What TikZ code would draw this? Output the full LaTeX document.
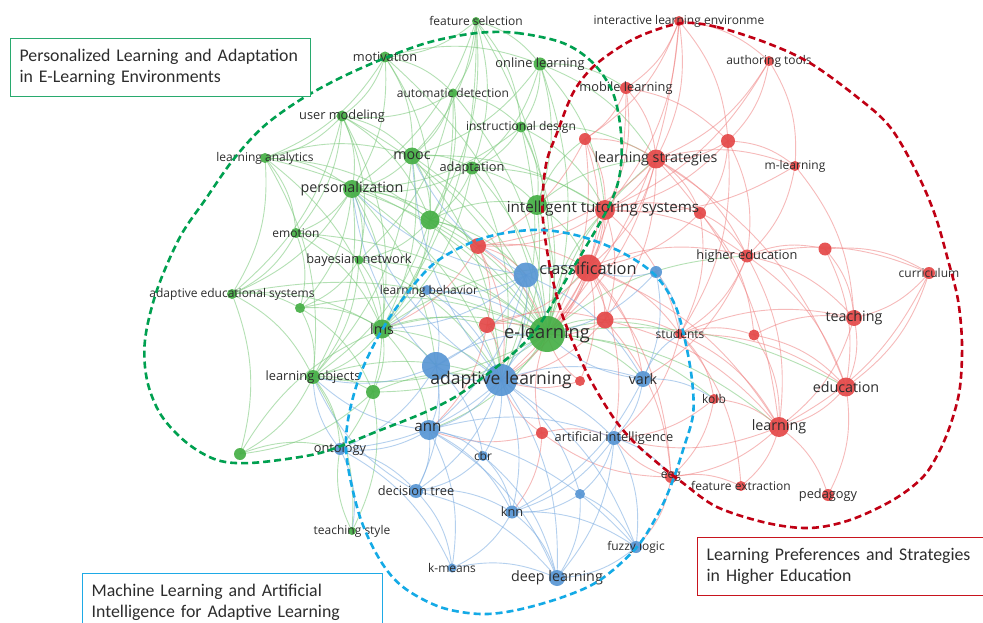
\documentclass[tikz,border=0pt]{standalone}
\usepackage{fontspec}
\newfontfamily\osans{Open Sans}
\newfontfamily\carl{Carlito}
\definecolor{gnode}{RGB}{70,175,70}
\definecolor{rnode}{RGB}{228,72,72}
\definecolor{bnode}{RGB}{88,150,212}
\definecolor{gedgec}{RGB}{120,200,120}
\definecolor{redgec}{RGB}{240,130,130}
\definecolor{bedgec}{RGB}{120,170,225}
\definecolor{gringc}{RGB}{0,160,80}
\definecolor{rringc}{RGB}{192,0,20}
\definecolor{bringc}{RGB}{20,170,230}
\definecolor{gboxc}{RGB}{40,170,110}
\definecolor{rboxc}{RGB}{200,20,30}
\definecolor{bboxc}{RGB}{30,170,230}
\definecolor{txt}{RGB}{45,45,45}
\begin{document}
\begin{tikzpicture}[x=1pt,y=-1pt,
  dot/.style={circle,inner sep=0pt,draw=none,fill opacity=0.92},
  gedge/.style={draw=gedgec,line width=0.9pt,opacity=0.55},
  redge/.style={draw=redgec,line width=0.9pt,opacity=0.55},
  bedge/.style={draw=bedgec,line width=0.9pt,opacity=0.55},
  ring/.style={line width=2.6pt,dash pattern=on 7pt off 4pt},
  lab/.style={inner sep=0pt,text=txt},
  t10/.style={lab,font=\osans\fontsize{12}{14}\selectfont},
  t11/.style={lab,font=\osans\fontsize{12.8}{15}\selectfont},
  t12/.style={lab,font=\osans\fontsize{14.3}{16}\selectfont},
  t13/.style={lab,font=\osans\fontsize{15.2}{17}\selectfont},
  t14/.style={lab,font=\osans\fontsize{16.4}{18}\selectfont},
  t16/.style={lab,font=\osans\fontsize{18.3}{20}\selectfont},
  t15/.style={lab,font=\osans\fontsize{17.5}{20}\selectfont},
  box/.style={draw,line width=1.3pt,fill=white,anchor=north west,align=left,
    text width=282pt,inner xsep=9pt,minimum height=58pt,text=txt,
    font=\carl\fontsize{17.8}{21}\selectfont}]
\useasboundingbox (0,0) rectangle (983,623);
\fill[white] (0,0) rectangle (983,623);
% ---------- positions ----------
\foreach \n/\x/\y in {fs/476/21, mot/385/57, ol/540/64, ad/453/93, um/342/116,
  id/521/127, la/265/158, mooc/412/156, adap/472/168, pers/352/189, ga/430/220,
  gb/537/205, emo/296/233, bn/359/260, aes/232/294, gc/300/308, lms/382/329,
  el/547/334, lo/313/377, gd/373/392, ge/240/454, ts/352/531,
  ile/679/21, aut/769/61, ml/626/88, ra/585/139, rb/728/141, ls/656/159,
  mlr/795/166, its/605/210, rc/700/213, rd/478/246, cls/588/268, he/747/256,
  re/825/249, cur/929/273, rf/487/325, rg/605/320, stu/680/334, rh/754/335,
  tea/854/318, ri/580/381, edu/846/387, kolb/714/399, rj/542/433, lrn/779/427,
  eeg/671/477, fe/741/486, ped/828/495,
  ba/526/275, bb/656/272, lb/427/290, al/501/380, bc/436/366, vark/643/379,
  ann/429/430, ai/614/438, ont/340/449, cbr/483/456, dt/416/491, bd/580/494,
  knn/512/512, fl/636/547, km/452/568, dl/557/578}
  \coordinate (\n) at (\x,\y);
% ---------- edges ----------
\foreach \a/\b in {fs/mot, fs/ol, fs/ad, fs/id, fs/el, fs/mooc, fs/pers, fs/ga, fs/adap, fs/lms,
  mot/um, mot/ad, mot/mooc, mot/pers, mot/el, mot/ol, mot/ga, mot/la,
  ol/id, ol/el, ol/adap, ol/its, ol/gb, ol/mooc, ol/ls, ol/ml,
  ad/um, ad/mooc, ad/el, ad/lms, ad/ga, ad/bn, ad/id,
  um/la, um/pers, um/mooc, um/emo, um/el, um/lms, um/ga, um/aes, um/bn,
  id/adap, id/el, id/gb, id/al, id/its, id/pers, id/ls,
  la/pers, la/mooc, la/lms, la/emo, la/el, la/ga, la/aes, la/lo,
  mooc/pers, mooc/el, mooc/ga, mooc/lms, mooc/adap, mooc/al, mooc/lo, mooc/its,
  adap/el, adap/ga, adap/pers, adap/lms, adap/al, adap/gb, adap/its,
  pers/ga, pers/el, pers/lms, pers/al, pers/emo, pers/bn, pers/lo, pers/aes, pers/gc, pers/bc, pers/rd,
  ga/el, ga/lms, ga/al, ga/bn, ga/ba, ga/gb, ga/lo, ga/rd,
  gb/el, gb/cls, gb/al, gb/its, gb/ls, gb/ra,
  emo/bn, emo/aes, emo/lms, emo/el, emo/gc,
  bn/lms, bn/el, bn/al, bn/gc, bn/lo,
  aes/gc, aes/lms, aes/lo, aes/ge, aes/el,
  gc/lms, gc/lo, gc/el, gc/gd,
  lms/el, lms/lo, lms/al, lms/gd, lms/bc, lms/ann, lms/ont, lms/cls, lms/rf,
  el/lo, el/al, el/gd, el/cls, el/vark, el/ann, el/its, el/ls, el/rg, el/rf,
  el/stu, el/he, el/lrn, el/edu, el/kolb,
  lo/gd, lo/ge, lo/ont, lo/al, lo/ts,
  gd/al, gd/ts, gd/ge, ge/ont, ge/lms, ts/ont}
  \draw[gedge] (\a) to[bend left=18] (\b);
\foreach \a/\b in {ile/ls, ile/ml, ile/aut, ile/its, ile/rb, ile/ra, ile/el,
  aut/rb, aut/mlr, aut/ls, aut/its,
  ml/ls, ml/ra, ml/its, ml/rb, ml/el,
  ra/ls, ra/its, ra/el, ra/cls, ra/rd,
  rb/ls, rb/mlr, rb/its, rb/he, rb/stu, rb/rc,
  ls/its, ls/cls, ls/el, ls/rc, ls/he, ls/mlr, ls/rg, ls/rd, ls/lrn, ls/edu,
  mlr/he, mlr/its, mlr/tea,
  its/cls, its/el, its/rc, its/rd, its/rg, its/he, its/stu, its/al,
  rc/he, rc/cls, rc/stu, rc/rh,
  rd/cls, rd/el, rd/rf, rd/al, rd/lms, rd/ba,
  cls/el, cls/rg, cls/stu, cls/al, cls/rf, cls/ai, cls/eeg, cls/he, cls/lrn, cls/ri, cls/vark,
  he/re, he/tea, he/edu, he/stu, he/lrn, he/cur, he/vark,
  re/cur, re/tea, re/edu, cur/tea, cur/edu, cur/lrn,
  rf/el, rf/al, rf/rg, rf/ann, rg/el, rg/stu, rg/eeg, rg/lrn, rg/al,
  stu/rh, stu/tea, stu/edu, stu/lrn, stu/kolb, stu/fe, stu/ai,
  rh/tea, rh/lrn, rh/edu, tea/edu, tea/lrn, edu/lrn, edu/ped,
  kolb/lrn, kolb/eeg, kolb/ai, lrn/eeg, lrn/fe, lrn/ped, lrn/ai,
  eeg/fe, eeg/rj, eeg/ai, eeg/fl, ri/el, ri/al, rj/al, rj/el, rj/ai, rj/ann, rj/knn}
  \draw[redge] (\a) to[bend left=18] (\b);
\foreach \a/\b in {ba/el, ba/al, ba/cls, ba/bc, ba/lb, ba/lms, ba/vark, ba/ann, ba/pers, ba/mooc,
  bb/cls, bb/vark, bb/stu, bb/el,
  lb/al, lb/bc, lb/lms, lb/el,
  al/bc, al/el, al/vark, al/ann, al/ai, al/cbr, al/dt, al/knn, al/dl, al/ont, al/fl, al/bd,
  al/pers, al/mooc,
  bc/ann, bc/ont, bc/dt, bc/cbr, bc/el, bc/lo, bc/pers,
  vark/el, vark/ai, vark/kolb, vark/knn, vark/stu,
  ann/dt, ann/cbr, ann/knn, ann/km, ann/dl, ann/ont, ann/ai, ann/fl, ann/lo,
  ai/knn, ai/dl, ai/fl, ai/bd, ai/eeg,
  ont/dt, ont/ts, ont/km, ont/lo, cbr/knn, cbr/dt, cbr/dl,
  dt/knn, dt/km, dt/dl, dt/lo, bd/knn, bd/fl, bd/dl,
  knn/km, knn/dl, knn/fl, fl/dl, km/dl}
  \draw[bedge] (\a) to[bend left=18] (\b);
% ---------- circles ----------
\foreach \n/\d in {fs/8, mot/11, ol/13, ad/9, um/11, id/11, la/10, mooc/17, adap/13,
  pers/18, ga/19, gb/20, emo/10, bn/9, aes/10, gc/10, lms/19, el/36, lo/14, gd/14,
  ge/12, ts/8}
  \node[dot,fill=gnode,minimum size=\d pt] (\n-c) at (\n) {};
\foreach \n/\d in {ile/10, aut/10, ml/12, ra/12, rb/14, ls/19, mlr/10, its/20, rc/12,
  rd/16, cls/27, he/13, re/13, cur/12, rf/16, rg/17, stu/10, rh/11, tea/16, ri/10,
  edu/19, kolb/10, rj/12, lrn/20, eeg/12, fe/10, ped/12}
  \node[dot,fill=rnode,minimum size=\d pt] (\n-c) at (\n) {};
\foreach \n/\d in {ba/25, bb/12, lb/10, al/32, bc/28, vark/16, ann/20, ai/14, ont/12,
  cbr/10, dt/14, bd/10, knn/13, fl/12, km/9, dl/16}
  \node[dot,fill=bnode,minimum size=\d pt] (\n-c) at (\n) {};
% ---------- labels ----------
\node[t10] (fs-l) at (fs) {feature selection};
\node[t11] (mot-l) at (mot) {motivation};
\node[t11] (ol-l) at (ol) {online learning};
\node[t10] (ad-l) at (ad) {automatic detection};
\node[t11] (um-l) at (um) {user modeling};
\node[t10] (id-l) at (id) {instructional design};
\node[t10] (la-l) at (la) {learning analytics};
\node[t12] (mooc-l) at (mooc) {mooc};
\node[t11] (adap-l) at (adap) {adaptation};
\node[t12] (pers-l) at (pers) {personalization};
\node[t10] (emo-l) at (emo) {emotion};
\node[t11] (bn-l) at (bn) {bayesian network};
\node[t10] (aes-l) at (aes) {adaptive educational systems};
\node[t12] (lms-l) at (lms) {lms};
\node[t16] (el-l) at (el) {e-learning};
\node[t11] (lo-l) at (lo) {learning objects};
\node[t10] (ts-l) at (ts) {teaching style};
\node[t10] (ile-l) at (ile) {interactive learning environme};
\node[t10] (aut-l) at (aut) {authoring tools};
\node[t11] (ml-l) at (ml) {mobile learning};
\node[t12] (ls-l) at (ls) {learning strategies};
\node[t10] (mlr-l) at (mlr) {m-learning};
\node[t13] (its-l) at (603,209) {intelligent tutoring systems};
\node[t14] (cls-l) at (cls) {classification};
\node[t11] (he-l) at (he) {higher education};
\node[t10] (cur-l) at (cur) {curriculum};
\node[t10] (stu-l) at (stu) {students};
\node[t12] (tea-l) at (tea) {teaching};
\node[t12] (edu-l) at (edu) {education};
\node[t10] (kolb-l) at (kolb) {kolb};
\node[t12] (lrn-l) at (lrn) {learning};
\node[t10] (eeg-l) at (eeg) {eeg};
\node[t10] (fe-l) at (fe) {feature extraction};
\node[t11] (ped-l) at (ped) {pedagogy};
\node[t10] (lb-l) at (429,291) {learning behavior};
\node[t15] (al-l) at (al) {adaptive learning};
\node[t12] (vark-l) at (vark) {vark};
\node[t13] (ann-l) at (428,427) {ann};
\node[t11] (ai-l) at (ai) {artificial intelligence};
\node[t11] (ont-l) at (ont) {ontology};
\node[t10] (cbr-l) at (cbr) {cbr};
\node[t11] (dt-l) at (dt) {decision tree};
\node[t11] (knn-l) at (knn) {knn};
\node[t10] (fl-l) at (fl) {fuzzy logic};
\node[t10] (km-l) at (km) {k-means};
\node[t12] (dl-l) at (dl) {deep learning};
% ---------- cluster rings ----------
\draw[ring,draw=gringc] plot[smooth cycle,tension=0.55] coordinates {
  (477,33) (517,33) (563,43) (593,63) (613,93) (621,133) (620,173) (608,208)
  (570,273) (530,337) (470,387) (430,410) (373,433) (330,450) (300,457) (250,463)
  (217,460) (187,443) (161,415) (147,380) (145,340) (157,290) (180,237) (205,200)
  (233,160) (263,127) (300,100) (340,78) (385,58) (430,42)};
\draw[ring,draw=rringc] plot[smooth cycle,tension=0.55] coordinates {
  (683,23) (717,27) (767,43) (810,63) (857,97) (890,127) (917,173) (935,215)
  (948,260) (958,300) (962,343) (960,387) (952,420) (940,450) (923,477) (893,500)
  (850,520) (810,528) (767,523) (717,507) (683,483) (660,465) (635,443) (613,417)
  (587,373) (563,317) (550,267) (543,220) (543,190) (547,160) (557,133) (573,93)
  (593,67) (623,45) (650,32)};
\draw[ring,draw=bringc] plot[smooth cycle,tension=0.55] coordinates {
  (543,230) (583,237) (623,253) (655,275) (675,305) (685,340) (692,380) (693,415)
  (683,450) (673,480) (660,510) (637,547) (600,580) (563,597) (517,610) (480,614)
  (440,607) (403,587) (380,560) (360,517) (347,460) (348,420) (362,370) (390,317)
  (430,267) (470,243) (505,233)};
% ---------- cluster titles ----------
\node[box,draw=gboxc] (gbox) at (10,38) {Personalized Learning and Adaptation\\in E-Learning Environments};
\node[box,draw=bboxc] (bbox) at (82,573) {Machine Learning and Artificial\\Intelligence for Adaptive Learning};
\node[box,draw=rboxc] (rbox) at (697,537) {Learning Preferences and Strategies\\in Higher Education};
\end{tikzpicture}
\end{document}
